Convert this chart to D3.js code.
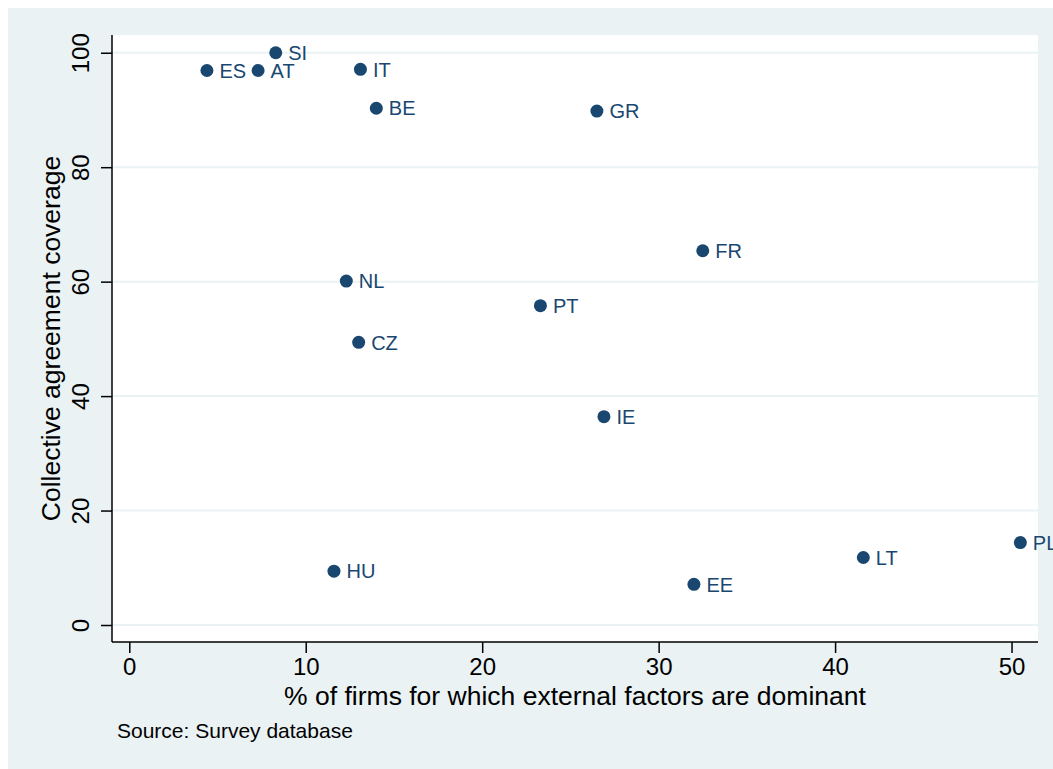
<!DOCTYPE html>
<html>
<head>
<meta charset="utf-8">
<script src="https://cdn.jsdelivr.net/npm/d3@7"></script>
<style>
  body { margin: 0; background: #fff; }
  text { font-family: "Liberation Sans", Arial, sans-serif; }
</style>
</head>
<body>
<svg width="1053" height="769"></svg>
<script>
// country codes and their values
var countries = ["ES", "AT", "SI", "IT", "BE", "GR", "FR", "NL", "PT", "CZ", "IE", "HU", "EE", "LT", "PL"]
var externalShare = [4.4, 7.3, 8.3, 13.1, 14.0, 26.5, 32.5, 12.3, 23.3, 13.0, 26.9, 11.6, 32.0, 41.6, 50.5]
var coverage = [96.9, 96.9, 100, 97.1, 90.3, 89.8, 65.4, 60.1, 55.8, 49.4, 36.4, 9.4, 7.1, 11.8, 14.4]
var xTicks = [0, 10, 20, 30, 40, 50]
var yTicks = [0, 20, 40, 60, 80, 100]

var navy = "#1a476f"
var bg = "#eaf2f3"

var svg = d3.select("svg")

// outer stata-like background
svg.append("rect").attr("x", 8).attr("y", 8).attr("width", 1045).attr("height", 761).attr("fill", bg)

var plotLeft = 112, plotRight = 1038, plotTop = 35, plotBottom = 642

svg.append("rect").attr("x", plotLeft).attr("y", plotTop)
  .attr("width", plotRight - plotLeft).attr("height", plotBottom - plotTop).attr("fill", "#fff")

var x = d3.scaleLinear().domain([-0.98, 51.5]).range([plotLeft, plotRight])
var y = d3.scaleLinear().domain([-2.97, 103.1]).range([plotBottom, plotTop])

// horizontal grid lines
svg.append("g").selectAll("line").data(yTicks).enter().append("line")
  .attr("x1", plotLeft).attr("x2", plotRight)
  .attr("y1", d => y(d)).attr("y2", d => y(d))
  .attr("stroke", bg).attr("stroke-width", 2)

// x axis
var xAxis = svg.append("g")
  .attr("transform", "translate(0," + plotBottom + ")")
  .call(d3.axisBottom(x).tickValues(xTicks).tickSize(11).tickPadding(5).tickSizeOuter(0))
xAxis.select(".domain").attr("stroke", "#000").attr("stroke-width", 1.5)
  .attr("d", "M" + plotLeft + ",0H" + plotRight)
xAxis.selectAll(".tick line").attr("stroke", "#000").attr("stroke-width", 1.5)
xAxis.selectAll(".tick text").attr("font-size", 24).attr("fill", "#000")
  .attr("font-family", "Liberation Sans, Arial, sans-serif")

// y axis, with rotated labels
var yAxis = svg.append("g")
  .attr("transform", "translate(" + plotLeft + ",0)")
  .call(d3.axisLeft(y).tickValues(yTicks).tickSize(11).tickSizeOuter(0))
yAxis.select(".domain").attr("stroke", "#000").attr("stroke-width", 1.5)
  .attr("d", "M0," + plotTop + "V" + plotBottom)
yAxis.selectAll(".tick line").attr("stroke", "#000").attr("stroke-width", 1.5)
yAxis.selectAll(".tick text")
  .attr("font-size", 24).attr("fill", "#000")
  .attr("font-family", "Liberation Sans, Arial, sans-serif")
  .attr("x", null).attr("dy", null)
  .attr("text-anchor", "middle")
  .attr("transform", "translate(-23,0) rotate(-90)")

// points
var pts = countries.map(function(c, i) { return {code: c, x: externalShare[i], y: coverage[i]} })

svg.append("g").selectAll("circle").data(pts).enter().append("circle")
  .attr("cx", d => x(d.x)).attr("cy", d => y(d.y))
  .attr("r", 6.5).attr("fill", navy)

svg.append("g").selectAll("text").data(pts).enter().append("text")
  .attr("x", d => x(d.x) + 12.5).attr("y", d => y(d.y))
  .attr("dy", "0.36em")
  .attr("font-size", 20).attr("fill", navy)
  .text(d => d.code)

// axis titles
svg.append("text")
  .attr("x", (plotLeft + plotRight) / 2).attr("y", 705)
  .attr("text-anchor", "middle").attr("font-size", 26.5)
  .text("% of firms for which external factors are dominant")

svg.append("text")
  .attr("transform", "translate(60," + (plotTop + plotBottom) / 2 + ") rotate(-90)")
  .attr("text-anchor", "middle").attr("font-size", 26.5)
  .text("Collective agreement coverage")

svg.append("text")
  .attr("x", 117).attr("y", 738)
  .attr("font-size", 21)
  .text("Source: Survey database")
</script>
</body>
</html>
